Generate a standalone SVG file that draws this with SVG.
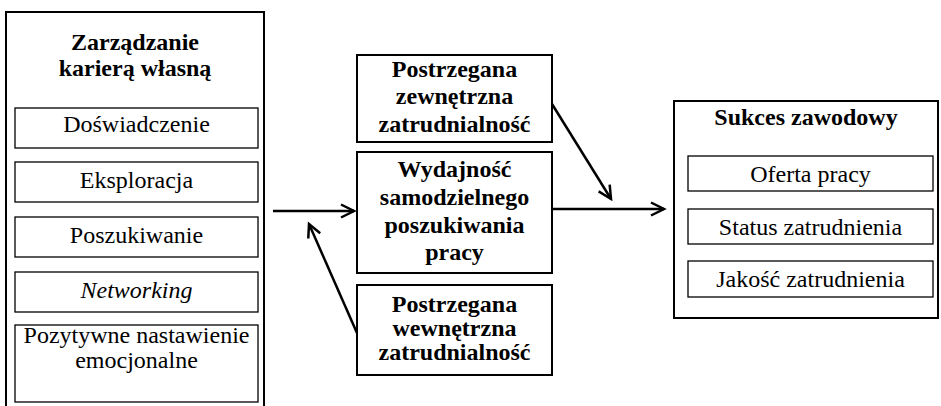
<svg xmlns="http://www.w3.org/2000/svg" width="941" height="406" viewBox="0 0 941 406">
<defs>
<style>
.outer{fill:#fff;stroke:#000;stroke-width:2}
.inner{fill:#fff;stroke:#000;stroke-width:1.3}
.t{font-family:"Liberation Serif","Times New Roman",serif;font-size:24px;fill:#000;text-anchor:middle}
.b{font-weight:bold}
.i{font-style:italic}
.conn{stroke:#000;stroke-width:2.5;fill:none}
</style>
<marker id="arr" markerUnits="userSpaceOnUse" markerWidth="20" markerHeight="20" refX="15" refY="8" orient="auto">
<path d="M2,1.5 L15,8 L2,14.5" fill="none" stroke="#000" stroke-width="2.5" stroke-linejoin="miter"/>
</marker>
</defs>
<rect width="941" height="406" fill="#fff"/>

<g id="zarzadzanie">
<rect class="outer" x="6" y="12" width="258" height="410"/>
<text class="t b" x="135" y="50">Zarządzanie</text>
<text class="t b" x="135" y="76">karierą własną</text>
</g>
<g id="doswiadczenie">
<rect class="inner" x="15" y="108" width="243" height="40"/>
<text class="t" x="136.5" y="132">Doświadczenie</text>
</g>
<g id="eksploracja">
<rect class="inner" x="15" y="162" width="243" height="40"/>
<text class="t" x="136.5" y="188">Eksploracja</text>
</g>
<g id="poszukiwanie">
<rect class="inner" x="15" y="217" width="243" height="40"/>
<text class="t" x="136.5" y="243">Poszukiwanie</text>
</g>
<g id="networking">
<rect class="inner" x="15" y="272" width="243" height="40"/>
<text class="t i" x="136.5" y="298">Networking</text>
</g>
<g id="pozytywne">
<rect class="inner" x="15" y="325" width="243" height="77"/>
<text class="t" x="136.5" y="343">Pozytywne nastawienie</text>
<text class="t" x="136.5" y="368">emocjonalne</text>
</g>

<g id="zewnetrzna">
<rect class="outer" x="357" y="55" width="195" height="87"/>
<text class="t b" x="454.5" y="77">Postrzegana</text>
<text class="t b" x="454.5" y="104">zewnętrzna</text>
<text class="t b" x="454.5" y="132">zatrudnialność</text>
</g>
<g id="wydajnosc">
<rect class="outer" x="357" y="152" width="195" height="121"/>
<text class="t b" x="454.5" y="177">Wydajność</text>
<text class="t b" x="454.5" y="205">samodzielnego</text>
<text class="t b" x="454.5" y="233">poszukiwania</text>
<text class="t b" x="454.5" y="260">pracy</text>
</g>
<g id="wewnetrzna">
<rect class="outer" x="357" y="285" width="195" height="90"/>
<text class="t b" x="454.5" y="312">Postrzegana</text>
<text class="t b" x="454.5" y="336">wewnętrzna</text>
<text class="t b" x="454.5" y="360">zatrudnialność</text>
</g>

<g id="sukces">
<rect class="outer" x="674" y="101" width="264" height="217"/>
<text class="t b" x="806" y="125">Sukces zawodowy</text>
</g>
<g id="oferta">
<rect class="inner" x="688" y="156" width="245" height="35"/>
<text class="t" x="810.5" y="182">Oferta pracy</text>
</g>
<g id="status">
<rect class="inner" x="688" y="209" width="245" height="35"/>
<text class="t" x="810.5" y="235">Status zatrudnienia</text>
</g>
<g id="jakosc">
<rect class="inner" x="688" y="261" width="245" height="36"/>
<text class="t" x="810.5" y="287">Jakość zatrudnienia</text>
</g>

<g id="connectors">
<line class="conn" x1="273" y1="211" x2="354" y2="211" marker-end="url(#arr)"/>
<line class="conn" x1="357" y1="333" x2="309" y2="224" marker-end="url(#arr)"/>
<line class="conn" x1="552" y1="104" x2="611" y2="199" marker-end="url(#arr)"/>
<line class="conn" x1="552" y1="209" x2="664" y2="209" marker-end="url(#arr)"/>
</g>
</svg>
